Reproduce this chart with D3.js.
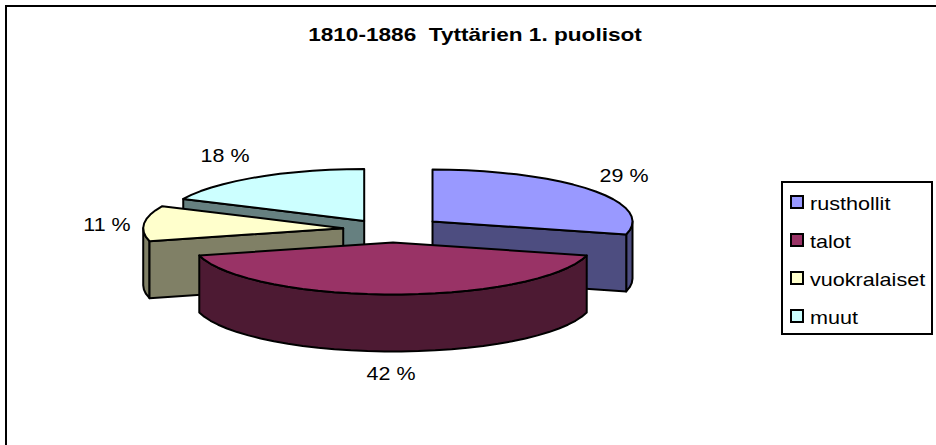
<!DOCTYPE html>
<html>
<head>
<meta charset="utf-8">
<script src="https://cdn.jsdelivr.net/npm/d3@7"></script>
<style>
html,body{margin:0;padding:0;background:#fff;overflow:hidden}
svg{display:block}
text{font-family:"Liberation Sans",Arial,sans-serif;fill:#000}
</style>
</head>
<body>
<svg id="chart" width="936" height="445"></svg>
<script>
const titleText = "1810-1886\u00a0\u00a0Tytt\u00e4rien 1. puolisot";
const categories = ["rusthollit", "talot", "vuokralaiset", "muut"];
const shares = [29, 42, 11, 18];
const topColors = ["#9999FF", "#993366", "#FFFFCC", "#CCFFFF"];
const sideColors = ["#4D4D80", "#4D1A33", "#808066", "#668080"];

const W = 936, H = 445;
const cx = 393, cy = 229.5, rx = 200, ry = 52, depth = 57, explode = 0.25;
const nudgeX = [0, 0, 0, -2], nudgeY = [0, 0, 0, 2.5];
const facet = 5 * Math.PI / 180;
const svg = d3.select("#chart");

// Frame: only the left and top edges fall inside the window
svg.append("path").attr("d", d3.line()([[6, H], [6, 6], [W, 6]]))
  .attr("fill", "none").attr("stroke", "#000").attr("stroke-width", 2);

const stretched = (x, y, size, kx, anchor, txt, weight) =>
  svg.append("text").attr("transform", `translate(${x},${y}) scale(${kx},1)`)
    .attr("text-anchor", anchor).attr("font-size", size)
    .attr("font-weight", weight || "normal").text(txt);

stretched(475, 41, 19, 1.19, "middle", titleText, "bold");

const sx = d3.scaleLinear().domain([-1, 1]).range([-rx, rx]);
const sy = d3.scaleLinear().domain([-1, 1]).range([-ry, ry]);

const slices = d3.pie().sort(null).value(d => d)(shares).map((s, i) => {
  const mid = (s.startAngle + s.endAngle) / 2;
  return {
    i, a0: s.startAngle, a1: s.endAngle, mid, value: s.value,
    ox: cx + sx(explode * Math.sin(mid)) + nudgeX[i],
    oy: cy + sy(-explode * Math.cos(mid)) + nudgeY[i]
  };
});

const pt = (s, a, dz = 0) => [s.ox + sx(Math.sin(a)), s.oy + sy(-Math.cos(a)) + dz];
function arcAngles(a0, a1) {
  const n = Math.max(1, Math.ceil((a1 - a0) / facet));
  return d3.range(n + 1).map(k => a0 + (a1 - a0) * k / n);
}
const line = d3.line();
const closed = pts => line(pts) + "Z";

const paint = (pts, fill) => svg.append("path").attr("d", closed(pts))
  .attr("fill", fill).attr("stroke", "#000").attr("stroke-width", 2).attr("stroke-linejoin", "round");

// Back to front: muut, rusthollit, vuokralaiset, talot
[3, 0, 2, 1].forEach(i => {
  const s = slices[i];
  const apex = [s.ox, s.oy], apexLow = [s.ox, s.oy + depth];
  const side = sideColors[i];

  if (i === 3) {
    const p = pt(s, s.a0);
    paint([apex, p, [p[0], p[1] + depth], apexLow], side);
  }
  if (i === 0) {
    const p = pt(s, s.a1);
    const rim = arcAngles(Math.PI / 2, s.a1);
    paint(rim.map(a => pt(s, a)).concat(rim.slice().reverse().map(a => pt(s, a, depth))), side);
    paint([apex, p, [p[0], p[1] + depth], apexLow], side);
  }
  if (i === 2) {
    const p = pt(s, s.a0);
    const rim = arcAngles(s.a0, 3 * Math.PI / 2);
    paint(rim.map(a => pt(s, a)).concat(rim.slice().reverse().map(a => pt(s, a, depth))), side);
    paint([apex, p, [p[0], p[1] + depth], apexLow], side);
  }
  if (i === 1) {
    const rim = arcAngles(s.a0, s.a1);
    paint(rim.map(a => pt(s, a)).concat(rim.slice().reverse().map(a => pt(s, a, depth))), side);
  }
  paint([apex].concat(arcAngles(s.a0, s.a1).map(a => pt(s, a))), topColors[i]);
});

// Data labels
const labelX = [624, 391, 107, 225];
const labelY = [182, 380, 231, 162];
shares.forEach((v, i) => stretched(labelX[i], labelY[i], 19, 1.13, "middle", v + " %"));

// Legend
const legendY = d3.scalePoint().domain(categories).range([202, 316]);
svg.append("rect").attr("x", 782).attr("y", 182).attr("width", 150).attr("height", 152)
  .attr("fill", "#fff").attr("stroke", "#000").attr("stroke-width", 2);
categories.forEach((c, i) => {
  const y = legendY(c);
  svg.append("rect").attr("x", 791).attr("y", y - 6).attr("width", 12).attr("height", 12)
    .attr("fill", topColors[i]).attr("stroke", "#000").attr("stroke-width", 2);
  stretched(810, y + 8, 18, 1.2, "start", c);
});
</script>
</body>
</html>
